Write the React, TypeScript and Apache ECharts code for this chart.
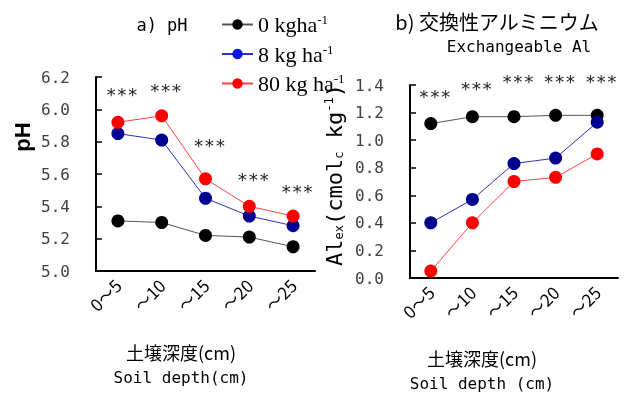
import React, { useEffect, useRef } from "react";
import * as echarts from "echarts";

const depths = ["0～5", "～10", "～15", "～20", "～25"];
const seriesNames = ["0 kgha-1", "8 kg ha-1", "80 kg ha-1"];
const ph0 = [5.31, 5.3, 5.22, 5.21, 5.15];
const ph8 = [5.85, 5.81, 5.45, 5.34, 5.28];
const ph80 = [5.92, 5.96, 5.57, 5.4, 5.34];
const al0 = [1.12, 1.17, 1.17, 1.18, 1.18];
const al8 = [0.4, 0.57, 0.83, 0.87, 1.13];
const al80 = [0.05, 0.4, 0.7, 0.73, 0.9];
const phSigY = [6.125, 6.15, 5.81, 5.6, 5.525];
const alSigY = [1.35, 1.41, 1.46, 1.46, 1.46];
const sigText = "***";

const markerColors = ["#000000", "#000090", "#ff0000"];
const lineColors = ["#555555", "#3030c0", "#ff4040"];
const legendColors = ["#000000", "#1010e0", "#ff0000"];

const MONO = "DejaVu Sans Mono";
const CJK = "Noto Sans CJK JP";

export default function App() {
  const ref = useRef<HTMLDivElement>(null);
  useEffect(() => {
    const chart = echarts.init(ref.current!, null, { renderer: "svg" });
    const mkLine = (name: string, data: number[], idx: number, i: number) => ({
      type: "line",
      name,
      data,
      xAxisIndex: idx,
      yAxisIndex: idx,
      symbol: "circle",
      symbolSize: 13,
      z: 3 + i,
      itemStyle: { color: markerColors[i] },
      lineStyle: { color: lineColors[i], width: 1 },
    });
    const mkSig = (ys: number[], idx: number) => ({
      type: "scatter",
      data: ys.map((y, i) => [i, y]),
      xAxisIndex: idx,
      yAxisIndex: idx,
      symbolSize: 1,
      clip: false,
      silent: true,
      z: 10,
      itemStyle: { color: "rgba(0,0,0,0)" },
      label: {
        show: true,
        formatter: sigText,
        position: "inside",
        offset: [4, 5],
        fontFamily: MONO,
        fontSize: 18,
        color: "#222",
        opacity: 1,
      },
    });
    const xAxisBase = (gi: number) => ({
      type: "category",
      gridIndex: gi,
      data: depths,
      boundaryGap: true,
      axisLine: { lineStyle: { color: "#000", width: 2 } },
      axisTick: { inside: true, length: 6, lineStyle: { color: "#000", width: 1.5 } },
      axisLabel: {
        rotate: 45,
        margin: 11,
        fontFamily: CJK,
        fontSize: 17,
        color: "#000",
      },
    });
    const yAxisBase = (gi: number, min: number, max: number) => ({
      type: "value",
      gridIndex: gi,
      min,
      max,
      interval: 0.2,
      splitLine: { show: false },
      axisLine: { show: true, lineStyle: { color: "#000", width: 2 } },
      axisTick: { show: true, inside: true, length: 6, lineStyle: { color: "#000", width: 1.5 } },
      axisLabel: {
        margin: 26,
        fontFamily: MONO,
        fontSize: 16,
        color: "#404040",
        formatter: (v: number) => v.toFixed(1),
      },
    });
    const legendMap: Record<string, string> = {
      "0 kgha-1": "{t|0 kgha}{s|-1}",
      "8 kg ha-1": "{t|8 kg ha}{s|-1}",
      "80 kg ha-1": "{t|80 kg ha}{s|-1}",
    };
    chart.setOption({
      animation: false,
      grid: [
        { left: 96, top: 77, width: 219, height: 194 },
        { left: 410, top: 85, width: 208, height: 193 },
      ],
      xAxis: [xAxisBase(0), xAxisBase(1)],
      yAxis: [yAxisBase(0, 5.0, 6.2), yAxisBase(1, 0, 1.4)],
      legend: {
        orient: "vertical",
        left: 216,
        top: 8,
        itemWidth: 31,
        itemHeight: 13,
        itemGap: 7,
        data: seriesNames.map((n, i) => ({ name: n, itemStyle: { color: legendColors[i] } })),
        formatter: (name: string) => legendMap[name],
        textStyle: {
          rich: {
            t: { fontFamily: "Liberation Serif", fontSize: 22, color: "#000" },
            s: {
              fontFamily: "Liberation Serif",
              fontSize: 13,
              color: "#000",
              verticalAlign: "top",
              padding: [0, 0, 10, 0],
            },
          },
        },
      },
      series: [
        mkLine(seriesNames[0], ph0, 0, 0),
        mkLine(seriesNames[1], ph8, 0, 1),
        mkLine(seriesNames[2], ph80, 0, 2),
        mkLine(seriesNames[0], al0, 1, 0),
        mkLine(seriesNames[1], al8, 1, 1),
        mkLine(seriesNames[2], al80, 1, 2),
        mkSig(phSigY, 0),
        mkSig(alSigY, 1),
      ],
      graphic: [
        {
          type: "text",
          x: 162,
          y: 25,
          style: { text: "a) pH", fontFamily: MONO, fontSize: 17, fill: "#000", align: "center", verticalAlign: "middle" },
        },
        {
          type: "text",
          x: 497,
          y: 21,
          style: { text: "b) 交換性アルミニウム", fontFamily: CJK, fontSize: 20, fill: "#000", align: "center", verticalAlign: "middle" },
        },
        {
          type: "text",
          x: 519,
          y: 46,
          style: { text: "Exchangeable Al", fontFamily: MONO, fontSize: 16, fill: "#000", align: "center", verticalAlign: "middle" },
        },
        {
          type: "text",
          x: 22,
          y: 137,
          rotation: Math.PI / 2,
          style: { text: "pH", fontFamily: "Liberation Sans", fontWeight: "bold", fontSize: 22, fill: "#000", align: "center", verticalAlign: "middle" },
        },
        {
          type: "text",
          x: 334,
          y: 175,
          rotation: Math.PI / 2,
          style: {
            text: "{a|Al}{b|ex}{a|(cmol}{b|c}{a| kg}{c|-1}{a|)}",
            align: "center",
            verticalAlign: "middle",
            rich: {
              a: { fontFamily: MONO, fontSize: 22, fill: "#000" },
              b: { fontFamily: MONO, fontSize: 12, fill: "#000", verticalAlign: "bottom", padding: [8, 0, 0, 0] },
              c: { fontFamily: MONO, fontSize: 12, fill: "#000", verticalAlign: "top", padding: [0, 0, 8, 0] },
            },
          },
        },
        {
          type: "text",
          x: 181,
          y: 352,
          style: { text: "土壌深度(cm)", fontFamily: CJK, fontSize: 18, fill: "#000", align: "center", verticalAlign: "middle" },
        },
        {
          type: "text",
          x: 181,
          y: 377,
          style: { text: "Soil depth(cm)", fontFamily: MONO, fontSize: 16, fill: "#000", align: "center", verticalAlign: "middle" },
        },
        {
          type: "text",
          x: 482,
          y: 358,
          style: { text: "土壌深度(cm)", fontFamily: CJK, fontSize: 18, fill: "#000", align: "center", verticalAlign: "middle" },
        },
        {
          type: "text",
          x: 482,
          y: 383,
          style: { text: "Soil depth (cm)", fontFamily: MONO, fontSize: 16, fill: "#000", align: "center", verticalAlign: "middle" },
        },
      ],
    });
    return () => chart.dispose();
  }, []);
  return <div ref={ref} style={{ position: "fixed", left: 0, top: 0, width: 624, height: 394 }} />;
}
